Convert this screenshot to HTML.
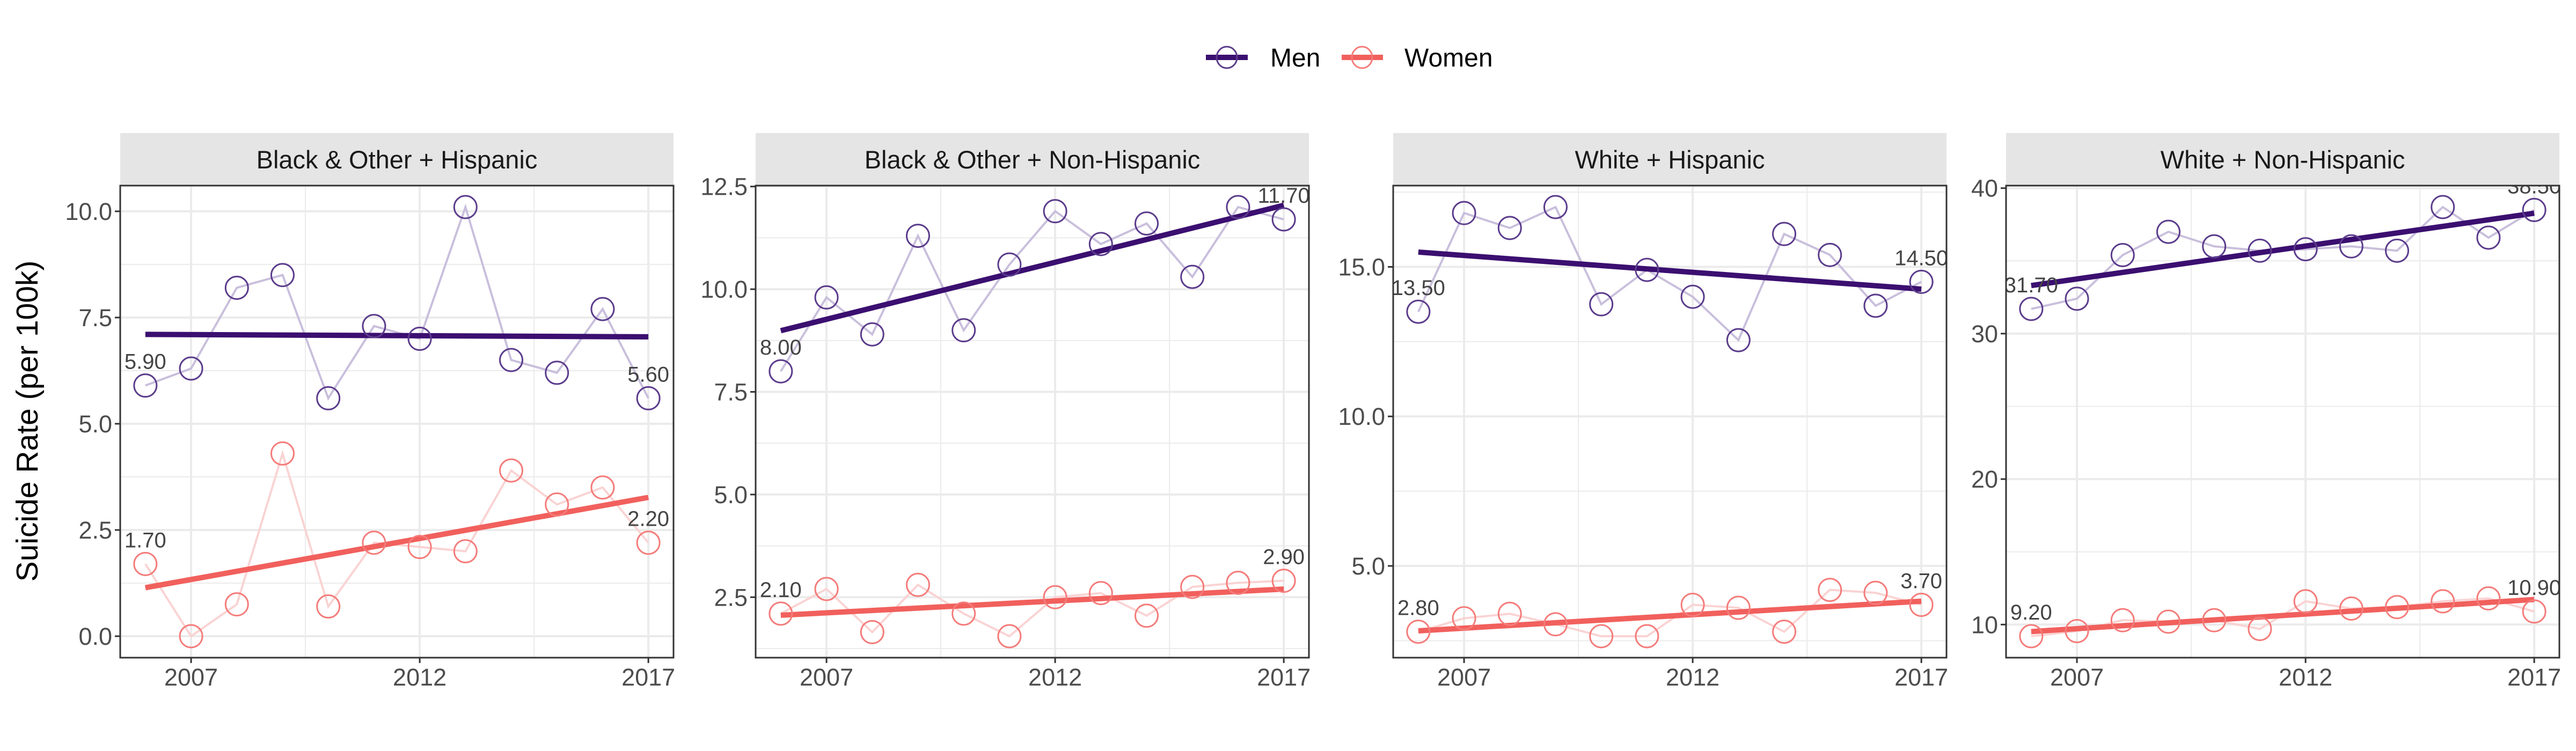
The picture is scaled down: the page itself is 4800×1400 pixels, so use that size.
<!DOCTYPE html>
<html><head><meta charset="utf-8"><style>
html,body{margin:0;padding:0;background:#fff;}
svg{display:block;font-family:"Liberation Sans",sans-serif;}
</style></head><body>
<svg id="chart" width="4800" height="1400" viewBox="0 0 4800 1400" xmlns="http://www.w3.org/2000/svg">
<g id="legend">
 <g>
  <line x1="2247" y1="107" x2="2325" y2="107" stroke="#3B0F70" stroke-width="10"/>
  <ellipse cx="2286" cy="107" rx="19" ry="20" fill="none" stroke="#5B3C8C" stroke-width="3"/>
  <text x="2367" y="124" font-size="48" fill="#000">Men</text>
 </g>
 <g>
  <line x1="2500" y1="107" x2="2577" y2="107" stroke="#F1605D" stroke-width="10"/>
  <ellipse cx="2538" cy="107" rx="19" ry="20" fill="none" stroke="#F47C7A" stroke-width="3"/>
  <text x="2617" y="124" font-size="48" fill="#000">Women</text>
 </g>
</g>
<text x="0" y="0" transform="translate(70,785) rotate(-90)" text-anchor="middle" font-size="57" fill="#000">Suicide Rate (per 100k)</text>
<g id="panels"></g>
</svg>
<script>
const years = [2006,2007,2008,2009,2010,2011,2012,2013,2014,2015,2016,2017];
const panelTitles = ["Black & Other + Hispanic","Black & Other + Non-Hispanic","White + Hispanic","White + Non-Hispanic"];
const menP1 = [5.9,6.3,8.2,8.5,5.6,7.3,7.0,10.1,6.5,6.2,7.7,5.6];
const womenP1 = [1.7,0.0,0.75,4.3,0.7,2.2,2.1,2.0,3.9,3.1,3.5,2.2];
const menP2 = [8.0,9.8,8.9,11.3,9.0,10.6,11.9,11.1,11.6,10.3,12.0,11.7];
const womenP2 = [2.1,2.7,1.65,2.8,2.1,1.55,2.5,2.6,2.05,2.75,2.85,2.9];
const menP3 = [13.5,16.8,16.3,17.0,13.75,14.9,14.0,12.55,16.1,15.4,13.7,14.5];
const womenP3 = [2.8,3.25,3.4,3.05,2.65,2.65,3.7,3.6,2.8,4.2,4.1,3.7];
const menP4 = [31.7,32.4,35.4,37.0,36.0,35.7,35.8,36.0,35.7,38.7,36.6,38.5];
const womenP4 = [9.2,9.55,10.3,10.2,10.3,9.7,11.6,11.1,11.2,11.6,11.8,10.9];
const yTicksP1 = [0,2.5,5,7.5,10];
const yTicksP2 = [2.5,5,7.5,10,12.5];
const yTicksP3 = [5,10,15];
const yTicksP4 = [10,20,30,40];
const yDecimals = [1,1,1,0];
const xTicks = [2007,2012,2017];
const xMinor = [2009.5,2014.5];

const menSeries=[menP1,menP2,menP3,menP4];
const womenSeries=[womenP1,womenP2,womenP3,womenP4];
const yTickSets=[yTicksP1,yTicksP2,yTicksP3,yTicksP4];
const NS="http://www.w3.org/2000/svg";
const lefts=[224,1408,2596,3738], PW=1031, TOP=346, BOT=1226, STRIP=248;
const MEN="#3B0F70", WOMEN="#F1605D";
function mk(tag,attrs,parent){const e=document.createElementNS(NS,tag);for(const k in attrs)e.setAttribute(k,attrs[k]);parent.appendChild(e);return e;}
function fit(ys){const n=years.length;const mx=years.reduce((a,b)=>a+b)/n;const my=ys.reduce((a,b)=>a+b)/n;let sxy=0,sxx=0;years.forEach((x,i)=>{sxy+=(x-mx)*(ys[i]-my);sxx+=(x-mx)*(x-mx);});const b=sxy/sxx;return x=>my+b*(x-mx);}
const root=document.getElementById('panels');
for(let p=0;p<4;p++){
 const L=lefts[p],R=L+PW;
 const g=mk('g',{},root);
 
 
 const all=menSeries[p].concat(womenSeries[p]);
 const mn=Math.min(...all),mxv=Math.max(...all),ex=(mxv-mn)*0.05;
 const y0=mn-ex,y1=mxv+ex;
 const xs=v=>L+(v-2005.45)/(12.1)*PW;
 const ys=v=>BOT-(v-y0)/(y1-y0)*(BOT-TOP);
 // strip
 const st=mk('rect',{x:L,y:STRIP,width:PW,height:TOP-STRIP,fill:'#E5E5E5'},g);
 
 
 const stt=mk('text',{x:L+PW/2,y:(STRIP+TOP)/2+17,'text-anchor':'middle','font-size':'47',fill:'#1A1A1A'},g);
 stt.textContent=panelTitles[p];
 
 
 const cid='clip'+p;
 const cp=mk('clipPath',{id:cid},g);mk('rect',{x:L,y:TOP,width:PW,height:BOT-TOP},cp);
 const pg=mk('g',{'clip-path':'url(#'+cid+')'},g);
 // grid
 const yt=yTickSets[p];const step=yt[1]-yt[0];
 for(let v=yt[0]-step/2;v<=y1;v+=step){if(v<y0)continue;mk('line',{x1:L,x2:R,y1:ys(v),y2:ys(v),stroke:'#EBEBEB','stroke-width':2},pg);}
 xMinor.forEach(v=>mk('line',{x1:xs(v),x2:xs(v),y1:TOP,y2:BOT,stroke:'#EBEBEB','stroke-width':2},pg));
 yt.forEach(v=>{const gl=mk('line',{x1:L,x2:R,y1:ys(v),y2:ys(v),stroke:'#EBEBEB','stroke-width':4},pg);});
 xTicks.forEach(v=>{const gl=mk('line',{x1:xs(v),x2:xs(v),y1:TOP,y2:BOT,stroke:'#EBEBEB','stroke-width':4},pg);});
 [[menSeries[p],MEN,'#5B3C8C','#C9BFDC','men'],[womenSeries[p],WOMEN,'#F47C7A','#FAD3D3','women']].forEach(([d,col,ccol,lcol,nm])=>{
  const pl=mk('polyline',{points:years.map((y,i)=>xs(y)+','+ys(d[i])).join(' '),fill:'none',stroke:lcol,'stroke-width':4},pg);
  
  
  const f=fit(d);
  const tl=mk('line',{x1:xs(2006),y1:ys(f(2006)),x2:xs(2017),y2:ys(f(2017)),stroke:col,'stroke-width':10},pg);
  
  
  years.forEach((y,i)=>{const c=mk('circle',{cx:xs(y),cy:ys(d[i]),r:21,fill:'none',stroke:ccol,'stroke-width':3},pg);
   
   });
  [0,d.length-1].forEach(i=>{const t=mk('text',{x:xs(years[i]),y:ys(d[i])-31,'text-anchor':'middle','font-size':'40',fill:'#444'},pg);
   t.textContent=d[i].toFixed(2);
   
   });
 });
 mk('rect',{x:L,y:TOP,width:PW,height:BOT-TOP,fill:'none',stroke:'#333','stroke-width':3},g);
 yt.forEach(v=>{mk('line',{x1:L-10,x2:L,y1:ys(v),y2:ys(v),stroke:'#333','stroke-width':3},g);
  const t=mk('text',{x:L-15,y:ys(v)+16,'text-anchor':'end','font-size':'45',fill:'#4D4D4D'},g);
  t.textContent=v.toFixed(yDecimals[p]);
  
  });
 xTicks.forEach(v=>{mk('line',{x1:xs(v),x2:xs(v),y1:BOT,y2:BOT+10,stroke:'#333','stroke-width':3},g);
  const t=mk('text',{x:xs(v),y:BOT+52,'text-anchor':'middle','font-size':'45',fill:'#4D4D4D'},g);
  t.textContent=v;
  
  });
}
</script>
</body></html>
